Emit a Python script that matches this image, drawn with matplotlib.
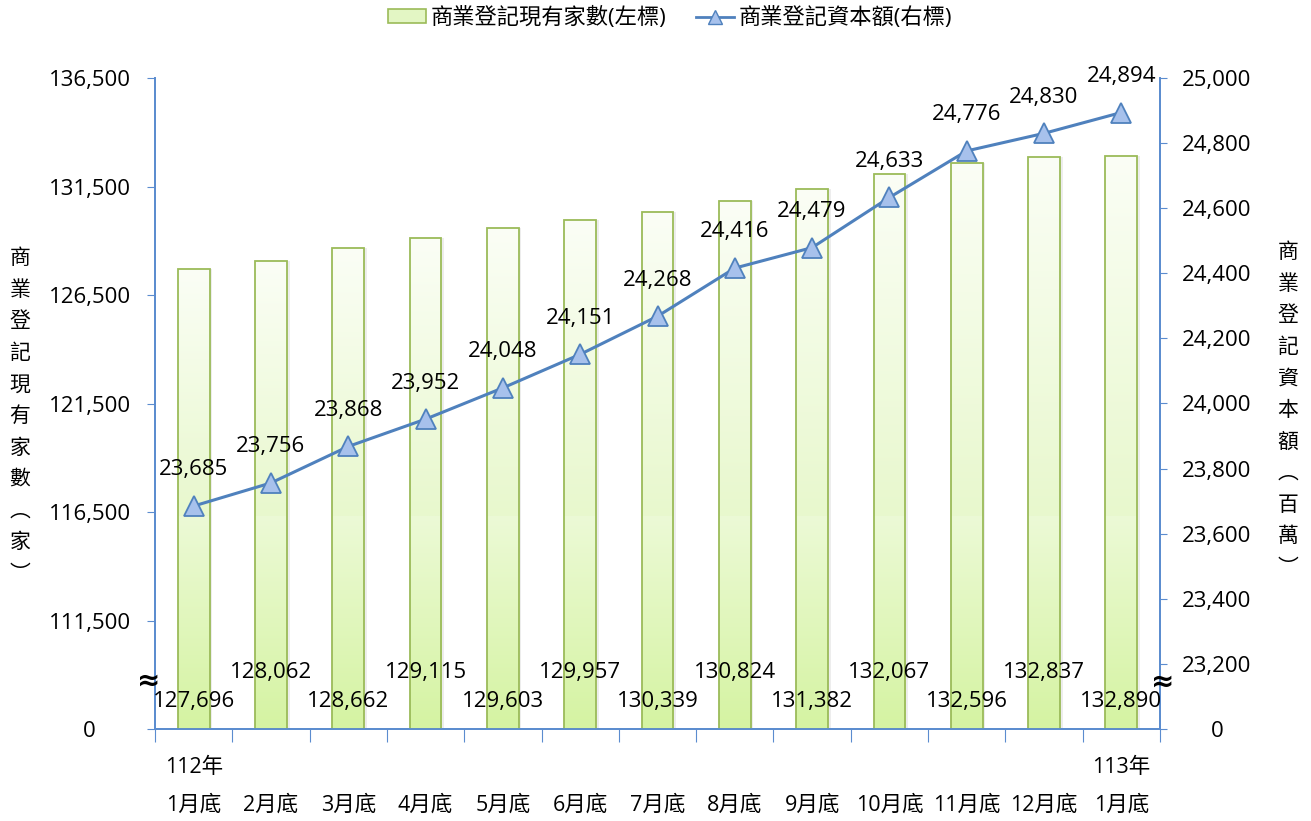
import numpy as np
import matplotlib
matplotlib.use("Agg")
import matplotlib.pyplot as plt
from matplotlib.colors import LinearSegmentedColormap
from matplotlib.patches import Patch
from matplotlib.lines import Line2D
import matplotlib.transforms as mtransforms

plt.rcParams['font.family'] = ['Open Sans', 'Noto Sans CJK TC', 'DejaVu Sans']

# data
months = ['1月底', '2月底', '3月底', '4月底', '5月底', '6月底', '7月底',
          '8月底', '9月底', '10月底', '11月底', '12月底', '1月底']
years = {0: '112年', 12: '113年'}
firms = [127696, 128062, 128662, 129115, 129603, 129957, 130339,
         130824, 131382, 132067, 132596, 132837, 132890]
capital = [23685, 23756, 23868, 23952, 24048, 24151, 24268,
           24416, 24479, 24633, 24776, 24830, 24894]

left_ticks = [106500, 111500, 116500, 121500, 126500, 131500, 136500]
left_labels = ['0', '111,500', '116,500', '121,500', '126,500', '131,500', '136,500']
right_ticks = list(range(23000, 25001, 200))
right_labels = ['0'] + [f'{v:,}' for v in right_ticks[1:]]

blue = '#4f81bd'
spine_blue = '#5b8ccf'
bar_edge = '#9bbb59'

fig = plt.figure(figsize=(13.11, 8.21), dpi=100)
ax = fig.add_axes([155/1311, 92/821, 1005/1311, 651/821])
ax2 = ax.twinx()

# gradient bars, drawn in two pieces like the broken original
upper_cmap = LinearSegmentedColormap.from_list('up', ['#e8f8cd', '#fbfef6'])
lower_cmap = LinearSegmentedColormap.from_list('lo', ['#d5f3a2', '#ecfad6'])
grad = np.linspace(0, 1, 256).reshape(-1, 1)
width = 0.41
brk = 116300
base = 106500
for i, v in enumerate(firms):
    x0, x1 = i - width / 2, i + width / 2
    # soft shadow
    ax.bar(i + 0.035, v - base, width=width, bottom=base, color='#000000',
           alpha=0.07, zorder=1, linewidth=0)
    ax.imshow(grad, extent=[x0, x1, base, brk], origin='lower', aspect='auto',
              cmap=lower_cmap, zorder=2)
    ax.imshow(grad, extent=[x0, x1, brk, v], origin='lower', aspect='auto',
              cmap=upper_cmap, zorder=2)
    ax.bar(i, v - base, width=width, bottom=base, fill=False,
           edgecolor=bar_edge, linewidth=1.3, zorder=3)

ax.set_xlim(-0.5, 12.5)
ax.set_ylim(106500, 136500)
ax.set_yticks(left_ticks)
ax.set_yticklabels(left_labels, ha='center')
ax.set_xticks(np.arange(-0.5, 13, 1))
ax.set_xticklabels([])

ax2.set_ylim(23000, 25000)
ax2.set_yticks(right_ticks)
ax2.set_yticklabels(right_labels, ha='center')

for a in (ax, ax2):
    a.spines['top'].set_visible(False)
    for s in ('left', 'right', 'bottom'):
        a.spines[s].set_color(spine_blue)
        a.spines[s].set_linewidth(1.3)
ax.tick_params(axis='y', direction='out', length=6, color=spine_blue,
               labelsize=16, pad=41)
ax.tick_params(axis='x', direction='out', length=9, color=spine_blue)
ax2.tick_params(axis='y', direction='out', length=5, color=spine_blue,
                labelsize=16, pad=36)

# line on right axis
ax2.plot(range(len(capital)), capital, color=blue, linewidth=2.2, zorder=5,
         marker='^', markersize=14, markerfacecolor='#a7c1ec',
         markeredgecolor=blue, markeredgewidth=1.3)
for i, v in enumerate(capital):
    ax2.annotate(f'{v:,}', xy=(i, v), xytext=(0, 26), textcoords='offset points',
                 ha='center', va='center', fontsize=16, zorder=6)

# bar value labels near the bottom, staggered
bottom_trans = mtransforms.blended_transform_factory(ax.transData, ax.transAxes)
for i, v in enumerate(firms):
    off = 19.5 if i % 2 == 0 else 41
    ax2.annotate(f'{v:,}', xy=(i, 0), xycoords=bottom_trans,
                 xytext=(0, off), textcoords='offset points',
                 ha='center', va='center', fontsize=16, zorder=6)

# x labels
for i, m in enumerate(months):
    ax.text(i, -76 / 651, m, transform=bottom_trans, ha='center', va='center', fontsize=15.5)
for i, y in years.items():
    ax.text(i, -38 / 651, y, transform=bottom_trans, ha='center', va='center', fontsize=15.5)

# break marks
fig.text(149 / 1311, 1 - 681 / 821, '≈', ha='center', va='center',
         fontsize=20, fontweight='bold', family='DejaVu Sans')
fig.text(1163 / 1311, 1 - 682 / 821, '≈', ha='center', va='center',
         fontsize=20, fontweight='bold', family='DejaVu Sans')

# vertical axis titles
left_title = '商業登記現有家數︵家︶'
right_title = '商業登記資本額︵百萬︶'
fig.text(20 / 1311, 1 - 416 / 821, '\n'.join(left_title), ha='center', va='center',
         fontsize=15, linespacing=1.56, family='Noto Sans CJK TC')
fig.text(1288 / 1311, 1 - 410 / 821, '\n'.join(right_title), ha='center', va='center',
         fontsize=15, linespacing=1.56, family='Noto Sans CJK TC')

# legend
handles = [Patch(facecolor='#e3f6c4', edgecolor=bar_edge, linewidth=1.2),
           Line2D([0], [0], color=blue, linewidth=2, marker='^', markersize=10,
                  markerfacecolor='#a7c1ec', markeredgecolor=blue)]
fig.legend(handles, ['商業登記現有家數(左標)', '商業登記資本額(右標)'],
           loc='center', bbox_to_anchor=(670 / 1311, 1 - 18 / 821), ncol=2,
           frameon=False, fontsize=16, handlelength=1.75, handleheight=0.6,
           columnspacing=1.3, handletextpad=0.2)

fig.savefig('out.png', dpi=100)
